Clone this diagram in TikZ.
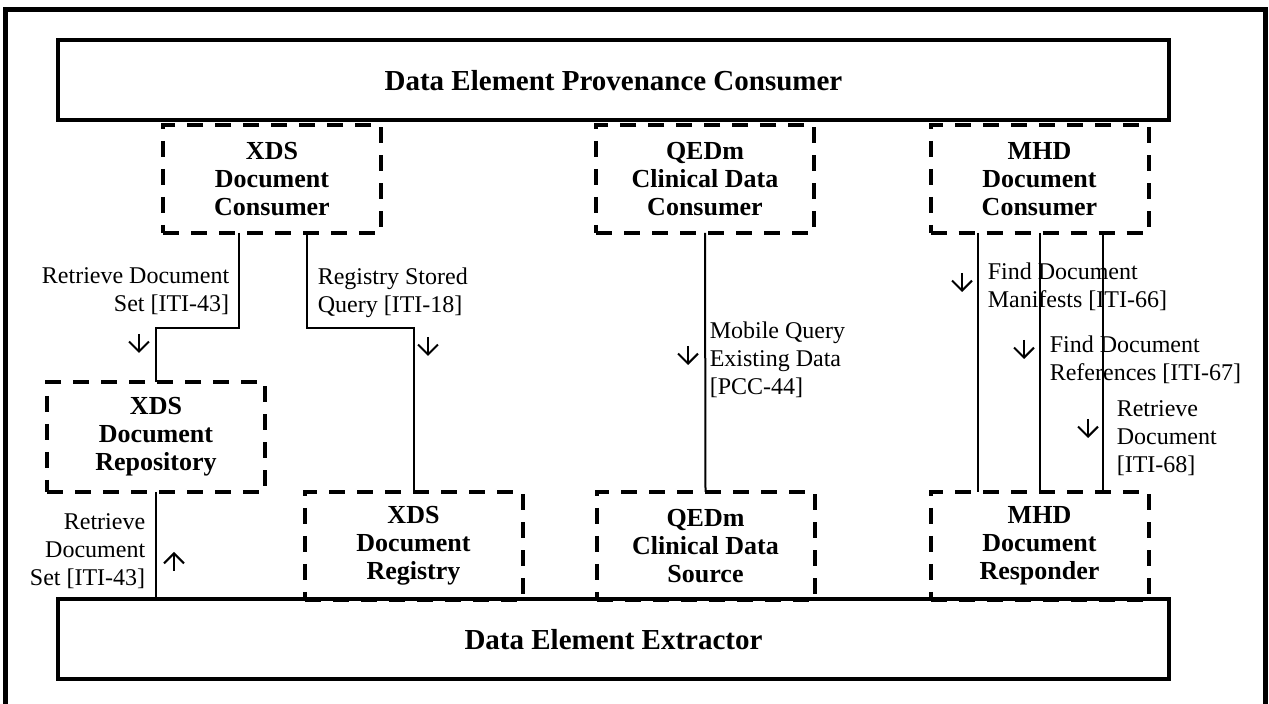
\documentclass[tikz,border=0pt]{standalone}
\usepackage{fontspec}
\setmainfont{Liberation Serif}
\usetikzlibrary{arrows.meta, positioning}

\begin{document}
\begin{tikzpicture}[x=0.5pt, y=-0.5pt, thick]
        % Define block styles
        \tikzstyle{widenode} = [rectangle, draw, line width=2pt, outer sep=0pt, minimum width=555.5pt, minimum height=40pt, font=\bfseries\fontsize{14.5}{16}\selectfont]
        \tikzstyle{dashednode} = [rectangle, draw, line width=2pt, outer sep=0pt, dash pattern=on 8pt off 6pt, minimum width=109pt, minimum height=54pt, align=center, font=\bfseries\fontsize{13}{14}\selectfont]
        \tikzstyle{notenode} = [inner sep=0pt, font=\fontsize{12}{14}\selectfont]
        \tikzstyle{line} = [draw, line width=1pt]
        \tikzstyle{dirarrow} = [draw, line width=1pt, -{Straight Barb[length=5pt, width=10pt]}]

        \useasboundingbox (0,0) rectangle (1269,704);
        \draw[line width=2.5pt] (5,10) rectangle (1265,712);

        % Define nodes
        \node [dashednode] (XDSC) at (272,179) {XDS\\Document\\Consumer};
        \node [dashednode] (QC) at (705,179) {QEDm\\Clinical Data\\Consumer};
        \node [dashednode] (MC) at (1039.5,179) {MHD\\Document\\Consumer};
        \node [dashednode, minimum height=55pt] (XDSR) at (156,437) {XDS\\Document\\Repository};
        \node [dashednode] (XDSReg) at (413.5,546) {XDS\\Document\\Registry};
        \node [dashednode] (QS) at (705.5,546) {QEDm\\Clinical Data\\Source};
        \node [dashednode] (MR) at (1039.5,546) {MHD\\Document\\Responder};
        \node [widenode] (DEPC) at (613.5,80.5) {Data Element Provenance Consumer};
        \node [widenode] (DEE) at (613.5,639.5) {Data Element Extractor};

        % Transaction labels
        \node [notenode, align=right, anchor=north east] (rds1) at (230,267) {Retrieve Document\\Set [ITI-43]};
        \node [notenode, align=left, anchor=north west] (rsq) at (317,267) {Registry Stored\\Query [ITI-18]};
        \node [notenode, align=left, anchor=north west] (mqe) at (709,321) {Mobile Query\\Existing Data\\{[PCC-44]}};
        \node [notenode, align=left, anchor=north west] (fdm) at (987,262) {Find Document\\Manifests [ITI-66]};
        \node [notenode, align=left, anchor=north west] (fdr) at (1049,335) {Find Document\\References [ITI-67]};
        \node [notenode, align=left, anchor=north west] (rd) at (1116,400) {Retrieve\\Document\\{[ITI-68]}};
        \node [notenode, align=right, anchor=north east] (rds2) at (146,513) {Retrieve\\Document\\Set [ITI-43]};

        % Direction marks
        \coordinate (a1) at (139,334);
        \coordinate (a2) at (428,337);
        \coordinate (a3) at (174,571);
        \coordinate (a4) at (688,346);
        \coordinate (a5) at (962,273);
        \coordinate (a6) at (1024,340);
        \coordinate (a7) at (1088,419);
        \draw[dirarrow] (a1) -- ++(0,19);
        \draw[dirarrow] (a2) -- ++(0,19);
        \draw[dirarrow] (a3) -- ++(0,-19);
        \draw[dirarrow] (a4) -- ++(0,19);
        \draw[dirarrow] (a5) -- ++(0,19);
        \draw[dirarrow] (a6) -- ++(0,19);
        \draw[dirarrow] (a7) -- ++(0,19);

        % Connect nodes with paths
        \draw[line] ([xshift=-16.5pt]XDSC.south) -- ++(0,95) -| (XDSR.north);
        \draw[line] ([xshift=17.5pt]XDSC.south) -- ++(0,95) -| (XDSReg.north);
        \draw[line] (XDSR.south) -- (XDSR.south |- DEE.north);
        \draw[line] (QC.south) -- (QS.north);
        \draw[line] ([xshift=-31pt]MC.south) -- ([xshift=-31pt]MR.north);
        \draw[line] (MC.south) -- (MR.north);
        \draw[line] ([xshift=31.75pt]MC.south) -- ([xshift=31.75pt]MR.north);

    \end{tikzpicture}
\end{document}
